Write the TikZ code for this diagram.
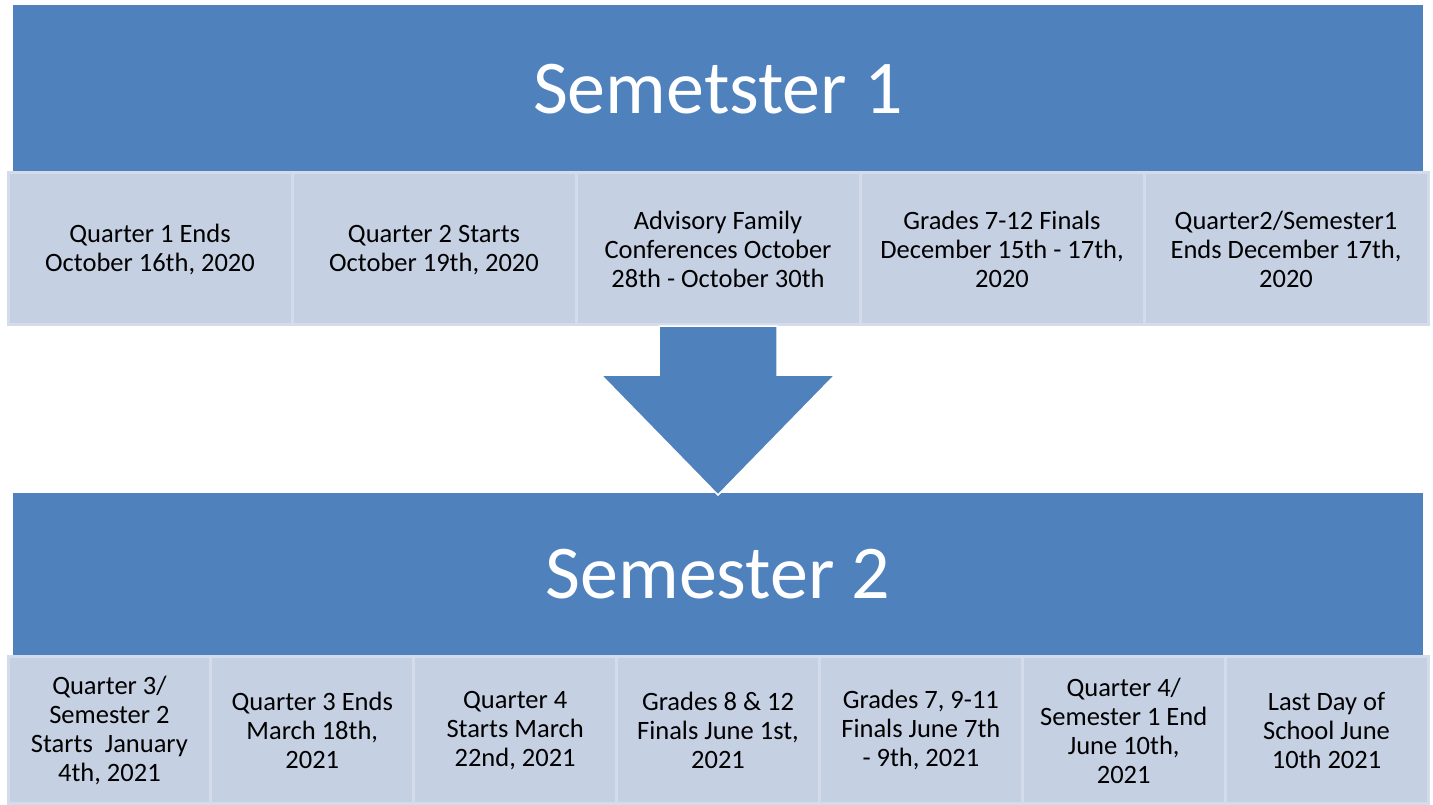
\documentclass[tikz,border=0pt]{standalone}
\usepackage{fontspec}
\setmainfont{Carlito}
\definecolor{blueA}{RGB}{79,129,189}
\definecolor{boxF}{RGB}{197,208,227}
\definecolor{boxD}{RGB}{212,220,235}
\begin{document}
\begin{tikzpicture}[x=1pt,y=-1pt,
  banner/.style={fill=blueA, draw=none, minimum width=1410pt, inner sep=0pt, text=white, font=\fontsize{76}{80}\selectfont},
  item/.style={draw=boxD, line width=3pt, fill=boxF, inner sep=0pt, align=center, font=\fontsize{26.5}{29}\selectfont, text=black},
  itemA/.style={item, minimum width=284pt, minimum height=151pt},
  itemB/.style={item, minimum width=202.86pt, minimum height=147pt},
  bigarrow/.style={fill=blueA, draw=white, line width=1.5pt}
]
\useasboundingbox (0,0) rectangle (1433,805);
\fill[white] (0,0) rectangle (1433,805);

% Semester 1
\node[banner, minimum height=168pt] (s1) at (718,89) {Semetster 1};
\node[itemA] (a1) at (150,248.5) {\strut Quarter 1 Ends\\October 16th, 2020};
\node[itemA] (a2) at (434,248.5) {\strut Quarter 2 Starts\\October 19th, 2020};
\node[itemA] (a3) at (718,248.5) {\strut Advisory Family\\Conferences October\\28th - October 30th};
\node[itemA] (a4) at (1002,248.5) {\strut Grades 7-12 Finals\\December 15th - 17th,\\2020};
\node[itemA] (a5) at (1286,248.5) {\strut Quarter2/Semester1\\Ends December 17th,\\2020};

% Semester 2
\node[banner, minimum height=163pt] (s2) at (718,574.5) {Semester 2};
\node[itemB] (b1) at (109.43,729.5) {\strut Quarter 3/\\Semester 2\\Starts\ \ January\\4th, 2021};
\node[itemB] (b2) at (312.29,729.5) {\strut Quarter 3 Ends\\March 18th,\\2021};
\node[itemB] (b3) at (515.14,729.5) {\strut Quarter 4\\Starts March\\22nd, 2021};
\node[itemB] (b4) at (718,729.5) {\strut Grades 8 \& 12\\Finals June 1st,\\2021};
\node[itemB] (b5) at (920.86,729.5) {\strut Grades 7, 9-11\\Finals June 7th\\- 9th, 2021};
\node[itemB] (b6) at (1123.71,729.5) {\strut Quarter 4/\\Semester 1 End\\June 10th,\\2021};
\node[itemB] (b7) at (1326.57,729.5) {\strut Last Day of\\School June\\10th 2021};

% arrow from Semester 1 row down to Semester 2
\coordinate (tip) at (718,495);
\draw[bigarrow] (659,326) -- (777,326) -- (777,375) -- (835,375) -- (tip) -- (601,375) -- (659,375) -- cycle;
\end{tikzpicture}
\end{document}
